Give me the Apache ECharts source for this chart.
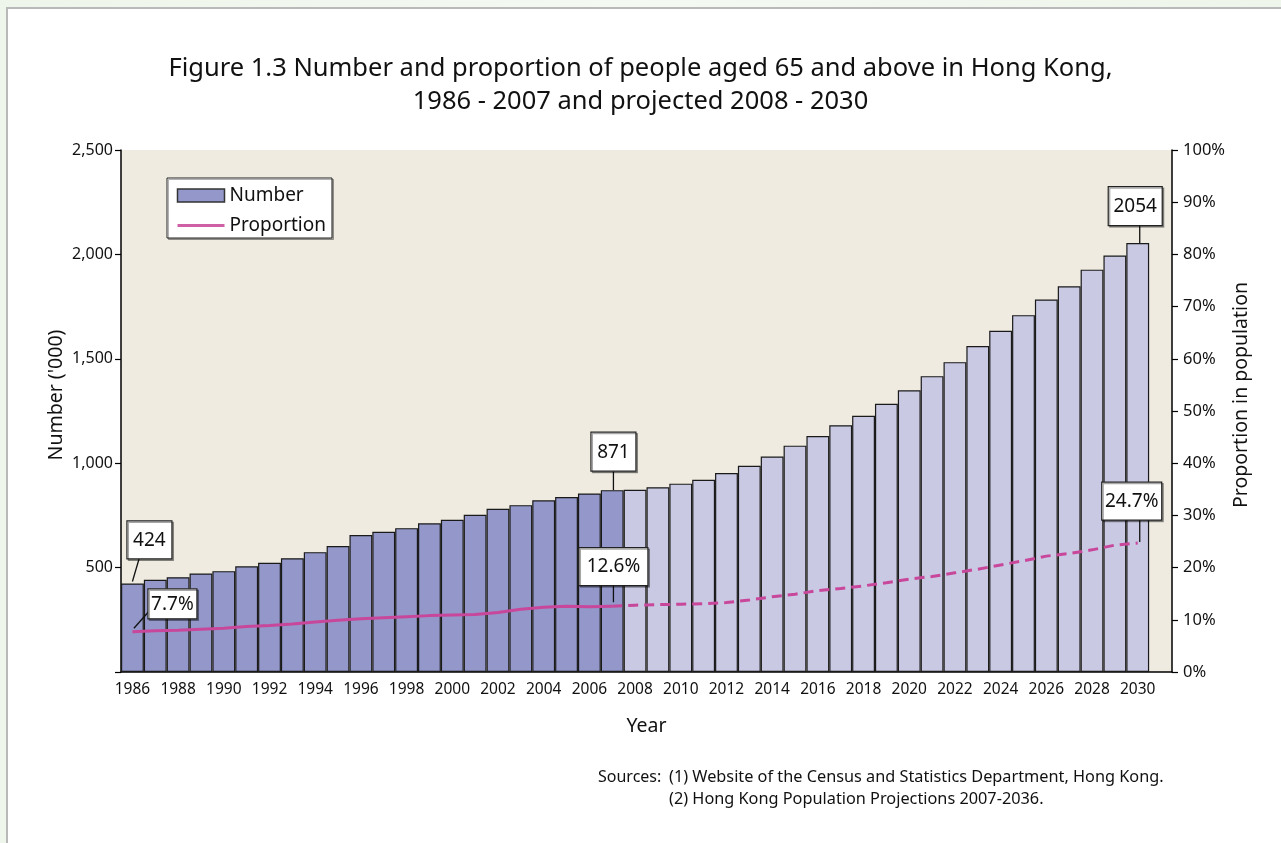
<!DOCTYPE html>
<html><head><meta charset="utf-8">
<script src="https://cdn.jsdelivr.net/npm/echarts@6/dist/echarts.min.js"></script>
<style>
html,body{margin:0;padding:0;width:1281px;height:843px;overflow:hidden;background:linear-gradient(90deg,#eef5ea,#f4f9f2 50%,#eef5ea);}
#card{position:absolute;left:6px;top:7px;width:1300px;height:900px;border:2px solid #b9b9b9;background:#fff;}
#chart{position:absolute;left:0;top:0;width:1281px;height:843px;}
</style></head><body><div id="card"></div><div id="chart"></div>
<script>
// ---- data ----
const titleLines = ['Figure 1.3 Number and proportion of people aged 65 and above in Hong Kong,', '1986 - 2007 and projected 2008 - 2030'];
const years = [1986,1987,1988,1989,1990,1991,1992,1993,1994,1995,1996,1997,1998,1999,2000,2001,2002,2003,2004,2005,2006,2007,
               2008,2009,2010,2011,2012,2013,2014,2015,2016,2017,2018,2019,2020,2021,2022,2023,2024,2025,2026,2027,2028,2029,2030];
const lastObservedYear = 2007;
const numbers = [424,442,454,472,483,506,523,545,574,603,656,672,689,712,729,753,782,799,822,838,855,871,
                 873,885,902,921,953,988,1032,1084,1130,1182,1227,1285,1349,1417,1484,1561,1634,1709,1784,1847,1927,1995,2054];
const proportions = [7.7,7.9,8.0,8.2,8.4,8.7,8.9,9.2,9.6,9.9,10.2,10.4,10.6,10.8,10.9,11.0,11.4,12.0,12.4,12.6,12.5,12.6,
                     12.8,12.9,13.0,13.1,13.3,13.8,14.4,14.9,15.6,16.0,16.5,17.1,17.8,18.3,19.0,19.7,20.5,21.3,22.2,22.7,23.4,24.3,24.7];
const sourcesLabel = 'Sources:';
const sources = ['(1) Website of the Census and Statistics Department, Hong Kong.', '(2) Hong Kong Population Projections 2007-2036.'];
// annotation callouts (year + which series); offsets are layout only
const annotations = [
  {year:1986, series:'number',     dx:17,  dy:-43.5, w:45, h:38, l1:[6.6,-24.5], l2:[0,-2]},
  {year:1986, series:'proportion', dx:40,  dy:-28,   w:49, h:30, l1:[16.6,-20.5], l2:[1.5,-3.5]},
  {year:2007, series:'number',     dx:1.2, dy:-38.5, w:45, h:39, l1:[1.2,-19], l2:[1.2,0]},
  {year:2007, series:'proportion', dx:1.2, dy:-39.7, w:69, h:38, l1:[1.2,-20.7], l2:[1.2,-4]},
  {year:2030, series:'number',     dx:-2.5,dy:-37,   w:54, h:39, l1:[2,-17.3], l2:[2,0]},
  {year:2030, series:'proportion', dx:-6,  dy:-42,   w:60, h:38, l1:[2,-23], l2:[2,-1]}
];

// ---- styles ----
const FONT = 'Noto Sans';
const DARK = '#9397C9', LIGHT = '#C9C9E4', PINK = '#C8479B', TXT = '#111';

const chart = echarts.init(document.getElementById('chart'), null, {renderer:'canvas'});
const option = {
  animation: false,
  backgroundColor: 'transparent',
  textStyle: {fontFamily: FONT, color: TXT},
  title: {text: titleLines.join('\n'), left: 'center', top: 47,
    textStyle: {fontSize: 25.5, fontWeight: 'normal', lineHeight: 33, color: TXT, fontFamily: FONT}},
  legend: {orient: 'vertical', left: 167, top: 178, backgroundColor: '#fff', borderColor: '#222', borderWidth: 1,
    padding: [8, 6, 3, 9], itemGap: 11, itemWidth: 47, itemHeight: 13,
    shadowColor: 'rgba(0,0,0,0.3)', shadowOffsetX: 1.5, shadowOffsetY: 1.5,
    textStyle: {fontSize: 19, color: TXT, fontFamily: FONT},
    data: [{name: 'Number', icon: 'rect', itemStyle: {color: DARK, borderColor: '#333', borderWidth: 1.5}},
           {name: 'Proportion', itemStyle: {opacity: 0, color: 'rgba(0,0,0,0)', borderWidth: 0},
            lineStyle: {color: '#D060A6', width: 3, opacity: 1}}]},
  grid: {left: 121, right: 109, top: 150, bottom: 171, show: true, backgroundColor: '#EFEBE1', borderWidth: 0},
  xAxis: {type: 'category', data: years.map(String), max: years.length, boundaryGap: true,
    name: 'Year', nameLocation: 'middle', nameGap: 44,
    nameTextStyle: {fontSize: 19.5, color: TXT, fontFamily: FONT},
    axisLine: {lineStyle: {color: '#000', width: 1.5}}, axisTick: {show: false},
    axisLabel: {interval: 1, fontSize: 15.5, color: TXT, margin: 10, fontFamily: FONT,
      formatter: v => (v === undefined || v === null || v === 'undefined') ? '' : v},
    splitLine: {show: false}},
  yAxis: [
    {type: 'value', min: 0, max: 2500, interval: 500, position: 'left',
      name: "Number ('000)", nameLocation: 'middle', nameRotate: 90, nameGap: 55, nameMoveOverlap: false,
      nameTextStyle: {fontSize: 19.5, color: TXT, fontFamily: FONT, padding: [0, 0, 0, 32]},
      axisLine: {show: true, lineStyle: {color: '#000', width: 1.5}},
      axisTick: {show: true, inside: false, length: 6, lineStyle: {color: '#000', width: 1.2}},
      axisLabel: {fontSize: 16, color: TXT, margin: 8, fontFamily: FONT,
        formatter: v => v === 0 ? '' : v.toLocaleString('en-US')},
      splitLine: {show: false}},
    {type: 'value', min: 0, max: 100, interval: 10, position: 'right',
      name: 'Proportion in population', nameLocation: 'middle', nameRotate: 90, nameGap: 59, nameMoveOverlap: false,
      nameTextStyle: {fontSize: 19.5, color: TXT, fontFamily: FONT, padding: [0, 0, 0, 32]},
      axisLine: {show: true, lineStyle: {color: '#000', width: 1.5}},
      axisTick: {show: true, inside: false, length: 6, lineStyle: {color: '#000', width: 1.2}},
      axisLabel: {fontSize: 16.5, color: TXT, margin: 11, fontFamily: FONT, formatter: '{value}%'},
      splitLine: {show: false}}
  ],
  series: [
    {name: 'Number', type: 'bar', yAxisIndex: 0, barCategoryGap: '0%', data: numbers,
      itemStyle: {color: p => years[p.dataIndex] <= lastObservedYear ? DARK : LIGHT, borderColor: '#1a1a1a', borderWidth: 1.2},
      emphasis: {disabled: true}},
    {name: 'Proportion', type: 'line', yAxisIndex: 1, symbol: 'none', z: 5,
      data: proportions.map((v, i) => years[i] <= lastObservedYear ? v : '-'),
      lineStyle: {color: PINK, width: 3}, itemStyle: {color: PINK}, emphasis: {disabled: true}},
    {name: 'Proportion (projected)', type: 'line', yAxisIndex: 1, symbol: 'none', z: 5,
      data: proportions.map((v, i) => years[i] >= lastObservedYear ? v : '-'),
      lineStyle: {color: PINK, width: 3, type: [10, 6]}, itemStyle: {color: PINK}, emphasis: {disabled: true}}
  ]
};
chart.setOption(option);

// callouts positioned through the chart's own scales
const g = [];
annotations.forEach(a => {
  const i = years.indexOf(a.year);
  const isNum = a.series === 'number';
  const val = isNum ? numbers[i] : proportions[i];
  const pt = chart.convertToPixel({xAxisIndex: 0, yAxisIndex: isNum ? 0 : 1}, [i, val]);
  const text = isNum ? String(val) : val.toFixed(1) + '%';
  const cx = pt[0] + a.dx, cy = pt[1] + a.dy;
  g.push({type: 'line', z: 100, shape: {x1: pt[0] + a.l1[0], y1: pt[1] + a.l1[1], x2: pt[0] + a.l2[0], y2: pt[1] + a.l2[1]},
    style: {stroke: '#111', lineWidth: 1.3}});
  g.push({type: 'rect', z: 101, shape: {x: cx - a.w / 2, y: cy - a.h / 2, width: a.w, height: a.h},
    style: {fill: '#fff', stroke: '#222', lineWidth: 1.2, shadowColor: 'rgba(0,0,0,0.35)', shadowOffsetX: 1.5, shadowOffsetY: 1.5}});
  g.push({type: 'text', z: 102, x: cx, y: cy + 0.5,
    style: {text: text, font: '19px "Noto Sans"', fill: TXT, align: 'center', verticalAlign: 'middle'}});
});
g.push({type: 'text', x: 598, y: 777, style: {text: sourcesLabel, font: '16px "Noto Sans"', fill: TXT, align: 'left', verticalAlign: 'middle'}});
g.push({type: 'text', x: 669, y: 766, style: {text: sources.join('\n'), font: '16.3px "Noto Sans"', lineHeight: 22, fill: TXT, align: 'left', verticalAlign: 'top'}});
chart.setOption({graphic: g});
</script></body></html>
